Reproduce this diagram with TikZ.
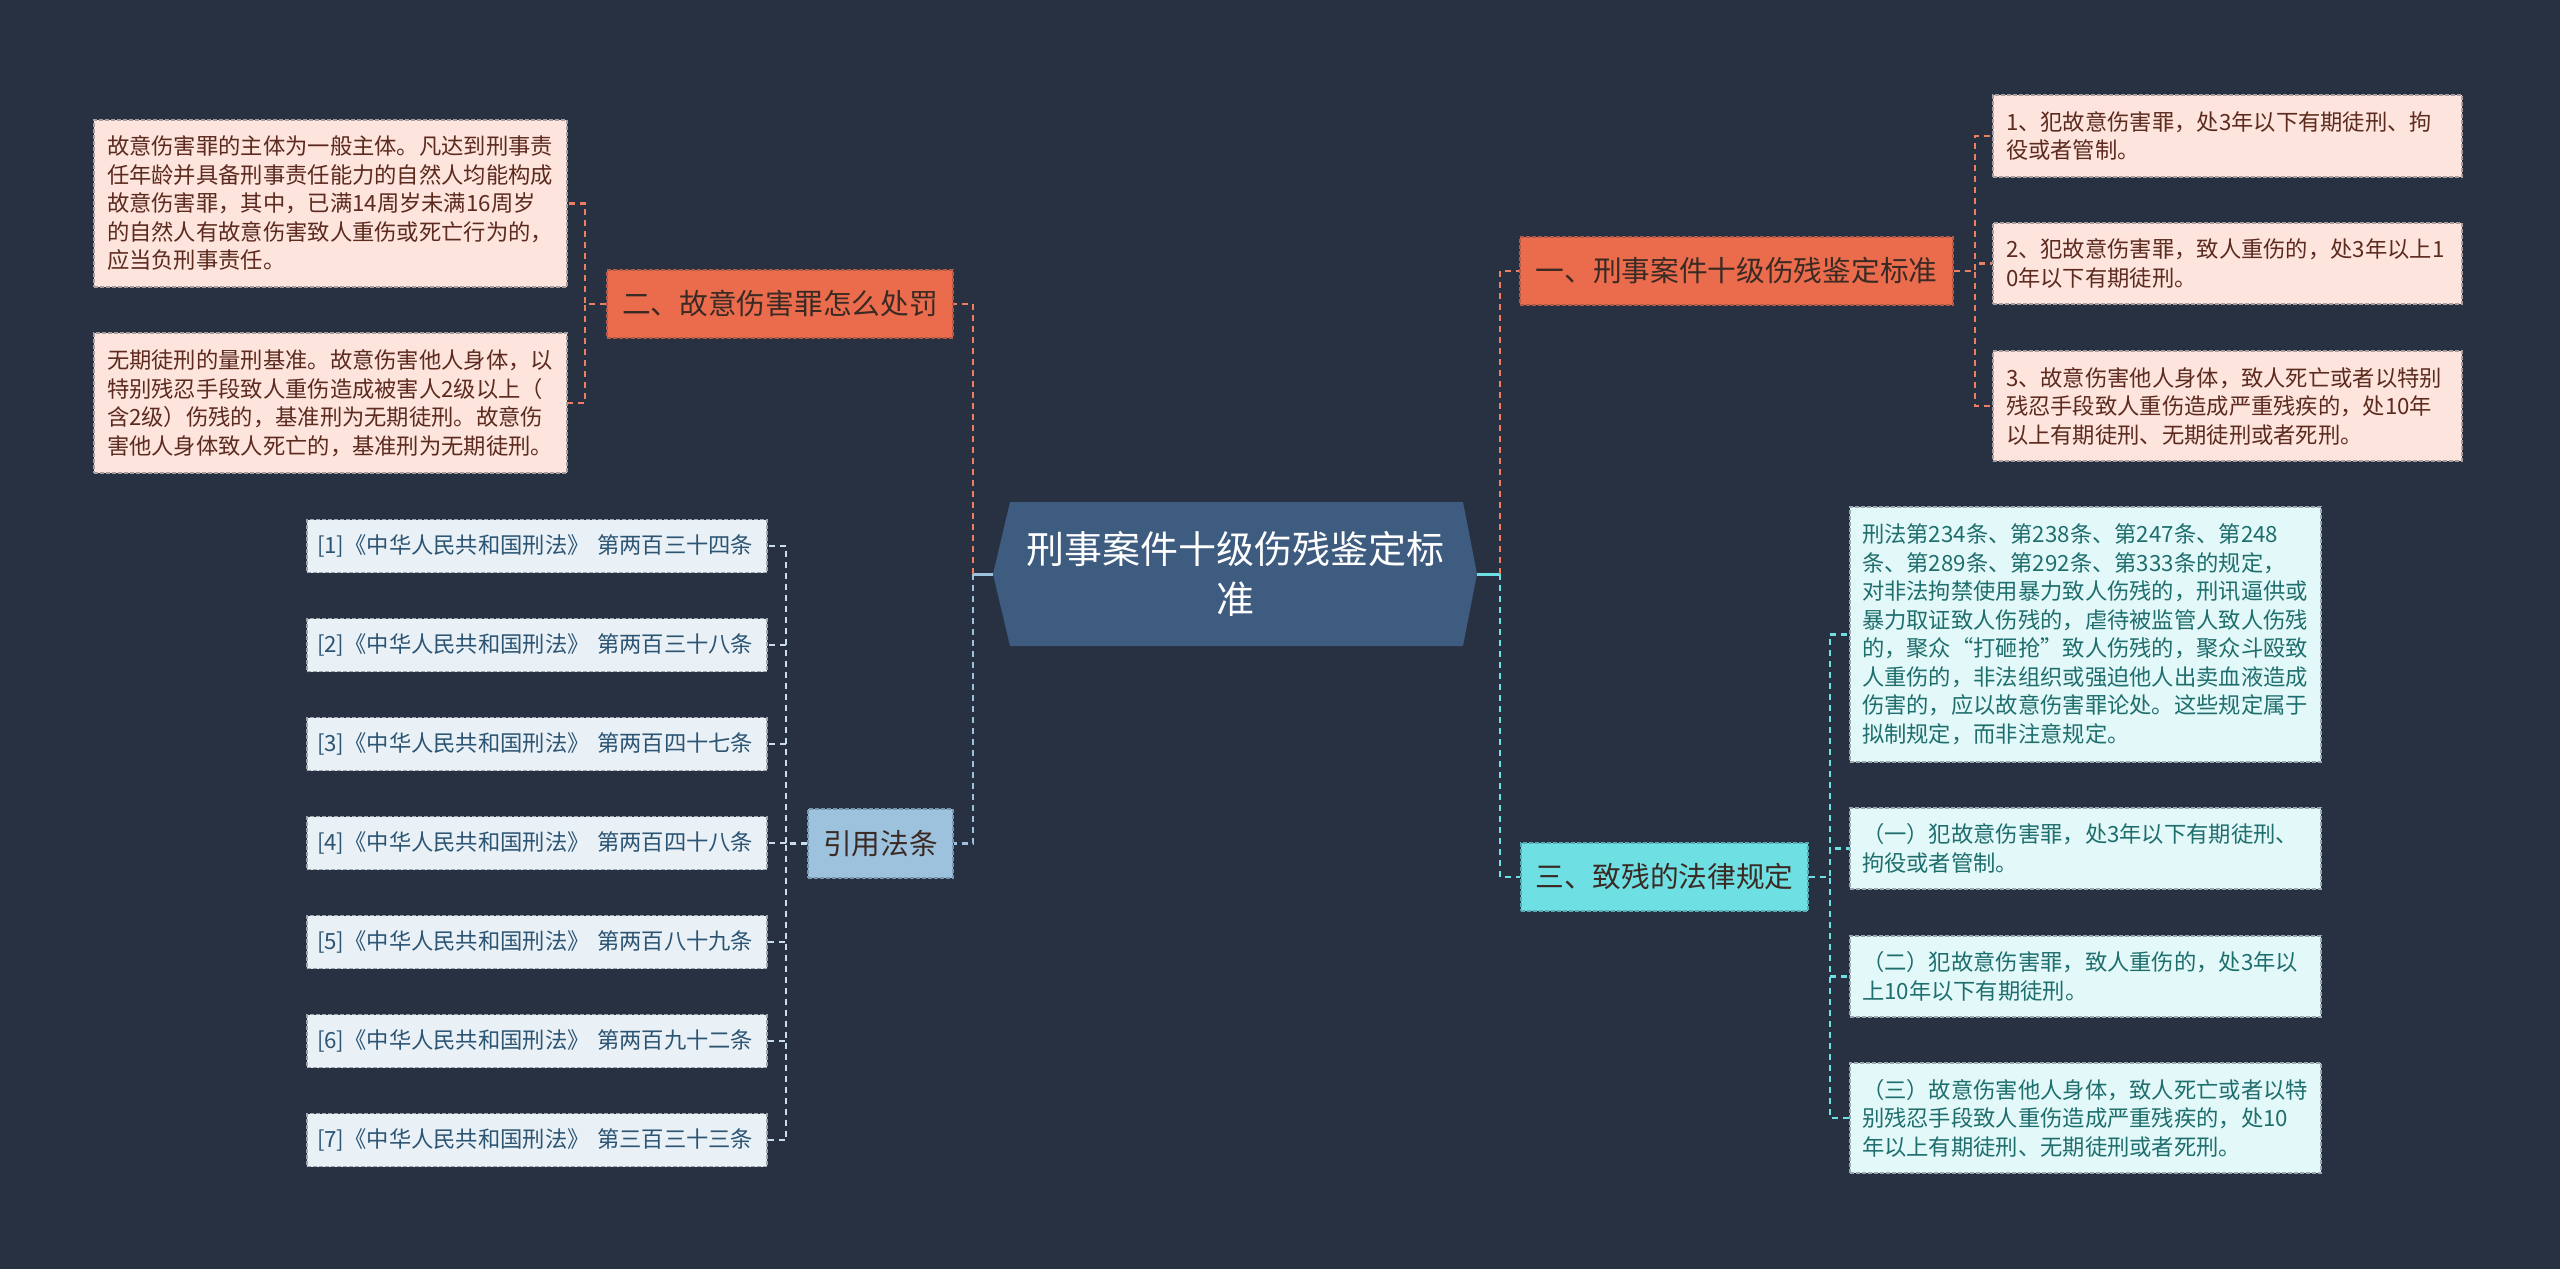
\documentclass[tikz,border=0pt]{standalone}
\usepackage{fontspec}
\setmainfont{Noto Sans CJK SC}
\definecolor{bg}{HTML}{283141}
\definecolor{rootfill}{HTML}{3E5B80}
\definecolor{orangefill}{HTML}{EB6C4D}
\definecolor{orangetext}{HTML}{3B2A24}
\definecolor{orangeline}{HTML}{EF7E60}
\definecolor{pinkfill}{HTML}{FDE4DC}
\definecolor{pinktext}{HTML}{5C2A1E}
\definecolor{cyanfill}{HTML}{6EE0E4}
\definecolor{cyanleaf}{HTML}{E3F8F8}
\definecolor{cyantext}{HTML}{1F6E6E}
\definecolor{bluefill}{HTML}{9CC2DE}
\definecolor{blueleaf}{HTML}{E9F1F7}
\definecolor{bluetext}{HTML}{2C5473}
\definecolor{blueline}{HTML}{C9DDEB}
\begin{document}
\begin{tikzpicture}[x=1pt,y=-1pt,
  conn/.style={line width=2.2pt, dash pattern=on 6pt off 5pt},
  solidconn/.style={line width=3pt},
  boxborder/.style={draw, line width=1.3pt, dash pattern=on 4pt off 2pt},
  leaf/.style={boxborder, inner xsep=13pt, inner ysep=0pt, align=left,
    font=\fontsize{22.3}{28.5}\selectfont},
  pinkleaf/.style={leaf, fill=pinkfill, draw=pinkfill!60!bg, text=pinktext},
  cyanleaf/.style={leaf, fill=cyanleaf, draw=cyanleaf!60!bg, text=cyantext},
  blueleaf/.style={leaf, fill=blueleaf, draw=blueleaf!60!bg, text=bluetext,
    inner xsep=10pt, text width=440pt, minimum height=53pt,
    font=\fontsize{22.3}{28.5}\selectfont},
  topic/.style={boxborder, inner sep=0pt, minimum height=68pt, text=orangetext,
    font=\fontsize{28.7}{34}\selectfont},
  orangetopic/.style={topic, fill=orangefill, draw=orangefill!70!bg},
  cyantopic/.style={topic, fill=cyanfill, draw=cyanfill!70!bg},
  bluetopic/.style={topic, fill=bluefill, draw=bluefill!70!bg}
]
\useasboundingbox (0,0) rectangle (2560,1269);
\fill[bg] (0,0) rectangle (2560,1269);

% root
\fill[rootfill] (1010,502) -- (1463,502) -- (1477,574) -- (1463,646) -- (1010,646) -- (993,574) -- cycle;
\node[text=white, align=center, inner sep=0pt, font=\fontsize{38}{50}\selectfont] (root) at (1235,574) {刑事案件十级伤残鉴定标\\准};
\coordinate (rootW) at (993,574);
\coordinate (rootE) at (1477,574);
\coordinate (jl) at (973,574);
\coordinate (jr) at (1500,574);

% level 1
\node[orangetopic, minimum width=433pt] (n1) at (1736.5,271) {一、刑事案件十级伤残鉴定标准};
\node[orangetopic, minimum width=346pt] (n2) at (780,304) {二、故意伤害罪怎么处罚};
\node[cyantopic, minimum width=287pt] (n3) at (1664.5,877) {三、致残的法律规定};
\node[bluetopic, minimum width=145pt, minimum height=69pt] (n4) at (880.5,843.5) {引用法条};

% n2 children
\node[pinkleaf, text width=447pt, minimum height=167pt] (a1) at (330.5,203.5) {故意伤害罪的主体为一般主体。凡达到刑事责\\任年龄并具备刑事责任能力的自然人均能构成\\故意伤害罪，其中，已满14周岁未满16周岁\\的自然人有故意伤害致人重伤或死亡行为的，\\应当负刑事责任。};
\node[pinkleaf, text width=447pt, minimum height=140pt] (a2) at (330.5,403) {无期徒刑的量刑基准。故意伤害他人身体，以\\特别残忍手段致人重伤造成被害人2级以上（\\含2级）伤残的，基准刑为无期徒刑。故意伤\\害他人身体致人死亡的，基准刑为无期徒刑。};

% n1 children
\node[pinkleaf, text width=443pt, minimum height=82pt] (b1) at (2227.5,136) {1、犯故意伤害罪，处3年以下有期徒刑、拘\\役或者管制。};
\node[pinkleaf, text width=443pt, minimum height=81pt] (b2) at (2227.5,263.5) {2、犯故意伤害罪，致人重伤的，处3年以上1\\0年以下有期徒刑。};
\node[pinkleaf, text width=443pt, minimum height=110pt] (b3) at (2227.5,406) {3、故意伤害他人身体，致人死亡或者以特别\\残忍手段致人重伤造成严重残疾的，处10年\\以上有期徒刑、无期徒刑或者死刑。};

% n3 children
\node[cyanleaf, text width=447pt, inner xsep=12pt, minimum height=255pt] (c1) at (2085.5,634.5) {刑法第234条、第238条、第247条、第248\\条、第289条、第292条、第333条的规定，\\对非法拘禁使用暴力致人伤残的，刑讯逼供或\\暴力取证致人伤残的，虐待被监管人致人伤残\\的，聚众“打砸抢”致人伤残的，聚众斗殴致\\人重伤的，非法组织或强迫他人出卖血液造成\\伤害的，应以故意伤害罪论处。这些规定属于\\拟制规定，而非注意规定。};
\node[cyanleaf, text width=447pt, inner xsep=12pt, minimum height=81pt] (c2) at (2085.5,848.5) {（一）犯故意伤害罪，处3年以下有期徒刑、\\拘役或者管制。};
\node[cyanleaf, text width=447pt, inner xsep=12pt, minimum height=81pt] (c3) at (2085.5,976.5) {（二）犯故意伤害罪，致人重伤的，处3年以\\上10年以下有期徒刑。};
\node[cyanleaf, text width=447pt, inner xsep=12pt, minimum height=110pt] (c4) at (2085.5,1118) {（三）故意伤害他人身体，致人死亡或者以特\\别残忍手段致人重伤造成严重残疾的，处10\\年以上有期徒刑、无期徒刑或者死刑。};

% n4 children
\node[blueleaf] (d1) at (537,546) {\mbox{[1]《中华人民共和国刑法》 第两百三十四条}};
\node[blueleaf] (d2) at (537,645) {\mbox{[2]《中华人民共和国刑法》 第两百三十八条}};
\node[blueleaf] (d3) at (537,744) {\mbox{[3]《中华人民共和国刑法》 第两百四十七条}};
\node[blueleaf] (d4) at (537,843) {\mbox{[4]《中华人民共和国刑法》 第两百四十八条}};
\node[blueleaf] (d5) at (537,942) {\mbox{[5]《中华人民共和国刑法》 第两百八十九条}};
\node[blueleaf] (d6) at (537,1041) {\mbox{[6]《中华人民共和国刑法》 第两百九十二条}};
\node[blueleaf] (d7) at (537,1140) {\mbox{[7]《中华人民共和国刑法》 第三百三十三条}};

% root connectors
\draw[solidconn, bluefill] (rootW) -- (jl);
\draw[solidconn, cyanfill] (rootE) -- (jr);
\draw[conn, orangeline] (jl) |- (n2.east);
\draw[conn, bluefill] (jl) |- (n4.east);
\draw[conn, orangeline] (jr) |- (n1.west);
\draw[conn, cyanfill] (jr) |- (n3.west);

% branch connectors
\foreach \c in {a1,a2} \draw[conn, orangeline] (n2.west) -- ++(-21,0) |- (\c.east);
\foreach \c in {b1,b2,b3} \draw[conn, orangeline] (n1.east) -- ++(21,0) |- (\c.west);
\foreach \c in {c1,c2,c3,c4} \draw[conn, cyanfill] (n3.east) -- ++(21,0) |- (\c.west);
\foreach \c in {d1,d2,d3,d4,d5,d6,d7} \draw[conn, blueline] (n4.west) -- ++(-21,0) |- (\c.east);
\end{tikzpicture}
\end{document}
